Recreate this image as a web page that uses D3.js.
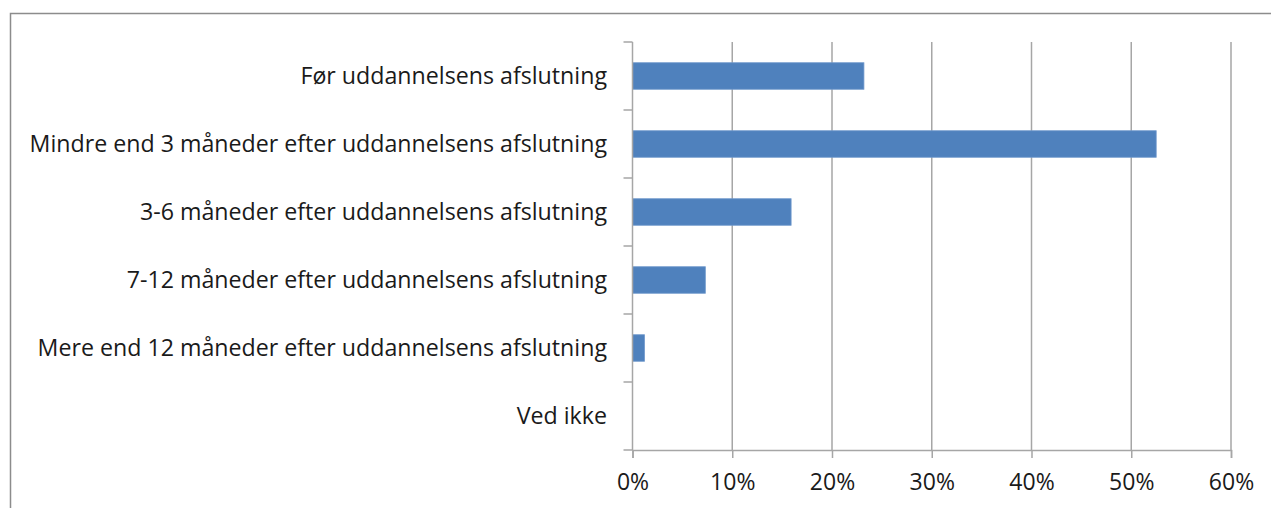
<!DOCTYPE html>
<html>
<head>
<meta charset="utf-8">
<script src="https://cdn.jsdelivr.net/npm/d3@7"></script>
<style>
  html, body { margin: 0; padding: 0; background: #fff; }
  svg text { font-family: "Open Sans", sans-serif; fill: #1a1a1a; }
</style>
</head>
<body>
<svg id="chart" width="1271" height="508"></svg>
<script>
// Tidspunkt for første job i forhold til uddannelsens afslutning
const categories = [
  "Før uddannelsens afslutning",
  "Mindre end 3 måneder efter uddannelsens afslutning",
  "3-6 måneder efter uddannelsens afslutning",
  "7-12 måneder efter uddannelsens afslutning",
  "Mere end 12 måneder efter uddannelsens afslutning",
  "Ved ikke"
];
const shares = [23.2, 52.5, 15.9, 7.3, 1.2, 0];
const xTicks = [0, 10, 20, 30, 40, 50, 60];

const svg = d3.select("#chart");

// chart frame (left and top edges visible)
svg.append("path")
  .attr("d", "M10.5,508 V13.5 H1271")
  .attr("fill", "none")
  .attr("stroke", "#8c8c8c")
  .attr("stroke-width", 1.5);

const plot = { left: 632.5, right: 1231, top: 42, bottom: 450 };

const x = d3.scaleLinear().domain([0, 60]).range([plot.left, plot.right]);
const y = d3.scaleBand().domain(categories).range([plot.top, plot.bottom])
  .paddingInner(0.61).paddingOuter(0.305);

// vertical gridlines
svg.append("g")
  .selectAll("line")
  .data(xTicks.slice(1))
  .join("line")
  .attr("x1", d => x(d)).attr("x2", d => x(d))
  .attr("y1", plot.top).attr("y2", plot.bottom)
  .attr("stroke", "#a6a6a6").attr("stroke-width", 1.5);

// bars
svg.append("g")
  .selectAll("rect")
  .data(shares)
  .join("rect")
  .attr("x", x(0))
  .attr("y", (d, i) => y(categories[i]))
  .attr("width", d => x(d) - x(0))
  .attr("height", y.bandwidth())
  .attr("fill", "#4f81bd")
  .attr("stroke", d => d > 0 ? "#6f98cc" : "none")
  .attr("stroke-width", 0.8);

// x axis
const xAxis = svg.append("g")
  .attr("transform", `translate(0,${plot.bottom})`)
  .call(d3.axisBottom(x).tickValues(xTicks).tickFormat(d => d + "%")
    .tickSize(8).tickPadding(16));
xAxis.select(".domain").attr("stroke", "#a6a6a6").attr("stroke-width", 1.5);
xAxis.selectAll(".tick line").attr("stroke", "#a6a6a6").attr("stroke-width", 1.5);
xAxis.selectAll("text").attr("font-size", 23).attr("fill", "#1a1a1a")
  .attr("font-family", "Open Sans, sans-serif");

// y axis: ticks on category boundaries
const boundaries = categories.map(c => y(c) - y.step() * y.paddingInner() / 2)
  .concat([plot.bottom]);
const yAxisG = svg.append("g");
yAxisG.append("line")
  .attr("x1", plot.left).attr("x2", plot.left)
  .attr("y1", plot.top).attr("y2", plot.bottom)
  .attr("stroke", "#a6a6a6").attr("stroke-width", 1.5);
yAxisG.selectAll("line.tick")
  .data(boundaries)
  .join("line")
  .attr("class", "tick")
  .attr("x1", plot.left - 9).attr("x2", plot.left)
  .attr("y1", d => d).attr("y2", d => d)
  .attr("stroke", "#a6a6a6").attr("stroke-width", 1.5);

// category labels
svg.append("g")
  .selectAll("text")
  .data(categories)
  .join("text")
  .attr("x", 607)
  .attr("y", d => y(d) + y.bandwidth() / 2)
  .attr("dy", "0.36em")
  .attr("text-anchor", "end")
  .attr("font-size", 23.2)
  .text(d => d);
</script>
</body>
</html>
